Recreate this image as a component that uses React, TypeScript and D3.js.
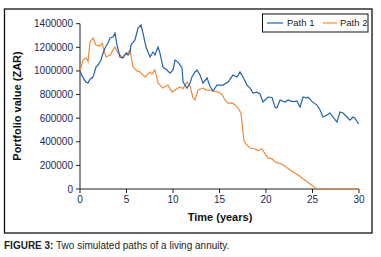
import React from "react";
import * as d3 from "d3";

const path1T = [0,0.22,0.43,0.65,0.86,1.08,1.4,1.72,1.94,2.26,2.47,2.69,3.01,3.23,3.55,3.76,3.98,4.3,4.62,4.95,5.16,5.38,5.48,5.91,6.24,6.56,6.77,7.1,7.53,7.85,8.06,8.39,8.6,8.92,9.35,9.68,10.0,10.22,10.54,10.97,11.08,11.51,11.83,12.04,12.37,12.58,12.9,13.23,13.66,13.98,14.3,14.73,15.38,15.91,16.45,16.88,17.2,17.53,17.96,18.28,18.6,19.03,19.35,19.68,20.22,20.65,20.97,21.18,21.51,22.04,22.37,22.8,23.33,23.66,23.98,24.41,24.52,24.95,25.48,25.81,26.13,26.56,26.88,27.2,27.63,27.96,28.28,28.71,29.03,29.35,29.57,29.89,30];
const path1V = [1000,960,930,905,898,930,948,1033,1050,1092,1150,1194,1236,1279,1287,1320,1220,1118,1109,1152,1135,1160,1220,1262,1363,1389,1320,1203,1118,1160,1135,1203,1150,1033,1008,982,1008,1092,1075,1025,906,855,898,949,991,1008,965,898,940,870,830,880,880,906,965,949,991,949,880,855,813,820,805,737,779,775,694,686,754,737,754,740,745,694,779,770,779,740,711,669,610,627,644,610,567,652,644,610,584,610,600,559,555];

const path2T = [0,0.22,0.32,0.65,0.86,1.08,1.4,1.72,2.15,2.37,2.8,3.23,3.76,4.09,4.52,4.95,5.38,5.7,6.13,6.45,6.99,7.53,7.74,8.06,8.39,8.92,9.46,9.89,10.43,10.75,11.08,11.51,11.83,12.15,12.37,12.69,13.23,13.55,13.98,14.84,15.27,15.59,15.91,16.34,16.67,16.99,17.31,17.42,17.53,17.63,17.85,18.28,18.82,19.14,19.57,19.89,20.22,20.65,20.97,21.51,21.83,22.58,23.44,25.48,30];
const path2V = [1000,1060,1092,1109,1080,1245,1279,1220,1210,1236,1118,1135,1203,1152,1118,1140,1177,1033,1000,991,949,991,975,1008,898,855,880,821,850,864,850,906,870,771,754,838,855,840,838,821,800,754,728,730,711,686,644,560,480,410,380,347,339,325,339,300,263,255,229,215,205,161,119,0,0];

const yTicks = [0,200000,400000,600000,800000,1000000,1200000,1400000];
const xTicks = [0,5,10,15,20,25,30];
const seriesNames = ["Path 1", "Path 2"];

export default function App() {
  const W = 381, H = 257;
  const x = d3.scaleLinear().domain([0, 30]).range([80, 359]);
  const y = d3.scaleLinear().domain([0, 1400000]).range([189, 23.7]);
  const line = d3.line<[number, number]>().x(d => x(d[0])).y(d => y(d[1] * 1000));
  const d1 = line(path1T.map((t, i) => [t, path1V[i]]));
  const d2 = line(path2T.map((t, i) => [t, path2V[i]]));
  const blue = "#1f63ad";
  const orange = "#f48a36";
  const tickColor = "#1b2a5a";
  const font = "'Liberation Sans', Arial, sans-serif";
  return (
    <svg width={W} height={H} style={{ position: "absolute", left: 0, top: 0 }} fontFamily={font}>
      <rect x={0} y={0} width={W} height={H} fill="#fff" />
      <rect x={4.5} y={9} width={367.5} height={224} fill="none" stroke="#111" strokeWidth={1.3} />
      <line x1={80} x2={80} y1={y(1400000)} y2={189} stroke="#222" strokeWidth={1} />
      <line x1={80} x2={359} y1={189} y2={189} stroke="#222" strokeWidth={1} />
      {yTicks.map(v => (
        <g key={v}>
          <line x1={76} x2={80} y1={y(v)} y2={y(v)} stroke="#222" />
          <text x={73} y={y(v)} dy="0.35em" textAnchor="end" fontSize={10} fill={tickColor}>{v}</text>
        </g>
      ))}
      {xTicks.map(v => (
        <g key={v}>
          <line x1={x(v)} x2={x(v)} y1={189} y2={193} stroke="#222" />
          <text x={x(v)} y={203} textAnchor="middle" fontSize={10} fill={tickColor}>{v}</text>
        </g>
      ))}
      <path d={d2 || ""} fill="none" stroke={orange} strokeWidth={1.2} />
      <path d={d1 || ""} fill="none" stroke={blue} strokeWidth={1.2} />
      <text x={220} y={221} textAnchor="middle" fontSize={11} fontWeight="bold" fill="#111">Time (years)</text>
      <text transform="translate(21,106) rotate(-90)" textAnchor="middle" fontSize={11} fontWeight="bold" fill="#111">Portfolio value (ZAR)</text>
      <rect x={262.5} y={14} width={105.5} height={18} fill="#fff" stroke="#111" strokeWidth={1} />
      <line x1={267} x2={283} y1={23} y2={23} stroke={blue} strokeWidth={1.2} />
      <text x={287} y={23} dy="0.35em" fontSize={9.5} fill="#222">{seriesNames[0]}</text>
      <line x1={323} x2={337} y1={23} y2={23} stroke={orange} strokeWidth={1.2} />
      <text x={340} y={23} dy="0.35em" fontSize={9.5} fill="#222">{seriesNames[1]}</text>
      <text x={4} y={249} fontSize={10} fill="#222"><tspan fontWeight="bold">FIGURE 3:</tspan> Two simulated paths of a living annuity.</text>
    </svg>
  );
}
